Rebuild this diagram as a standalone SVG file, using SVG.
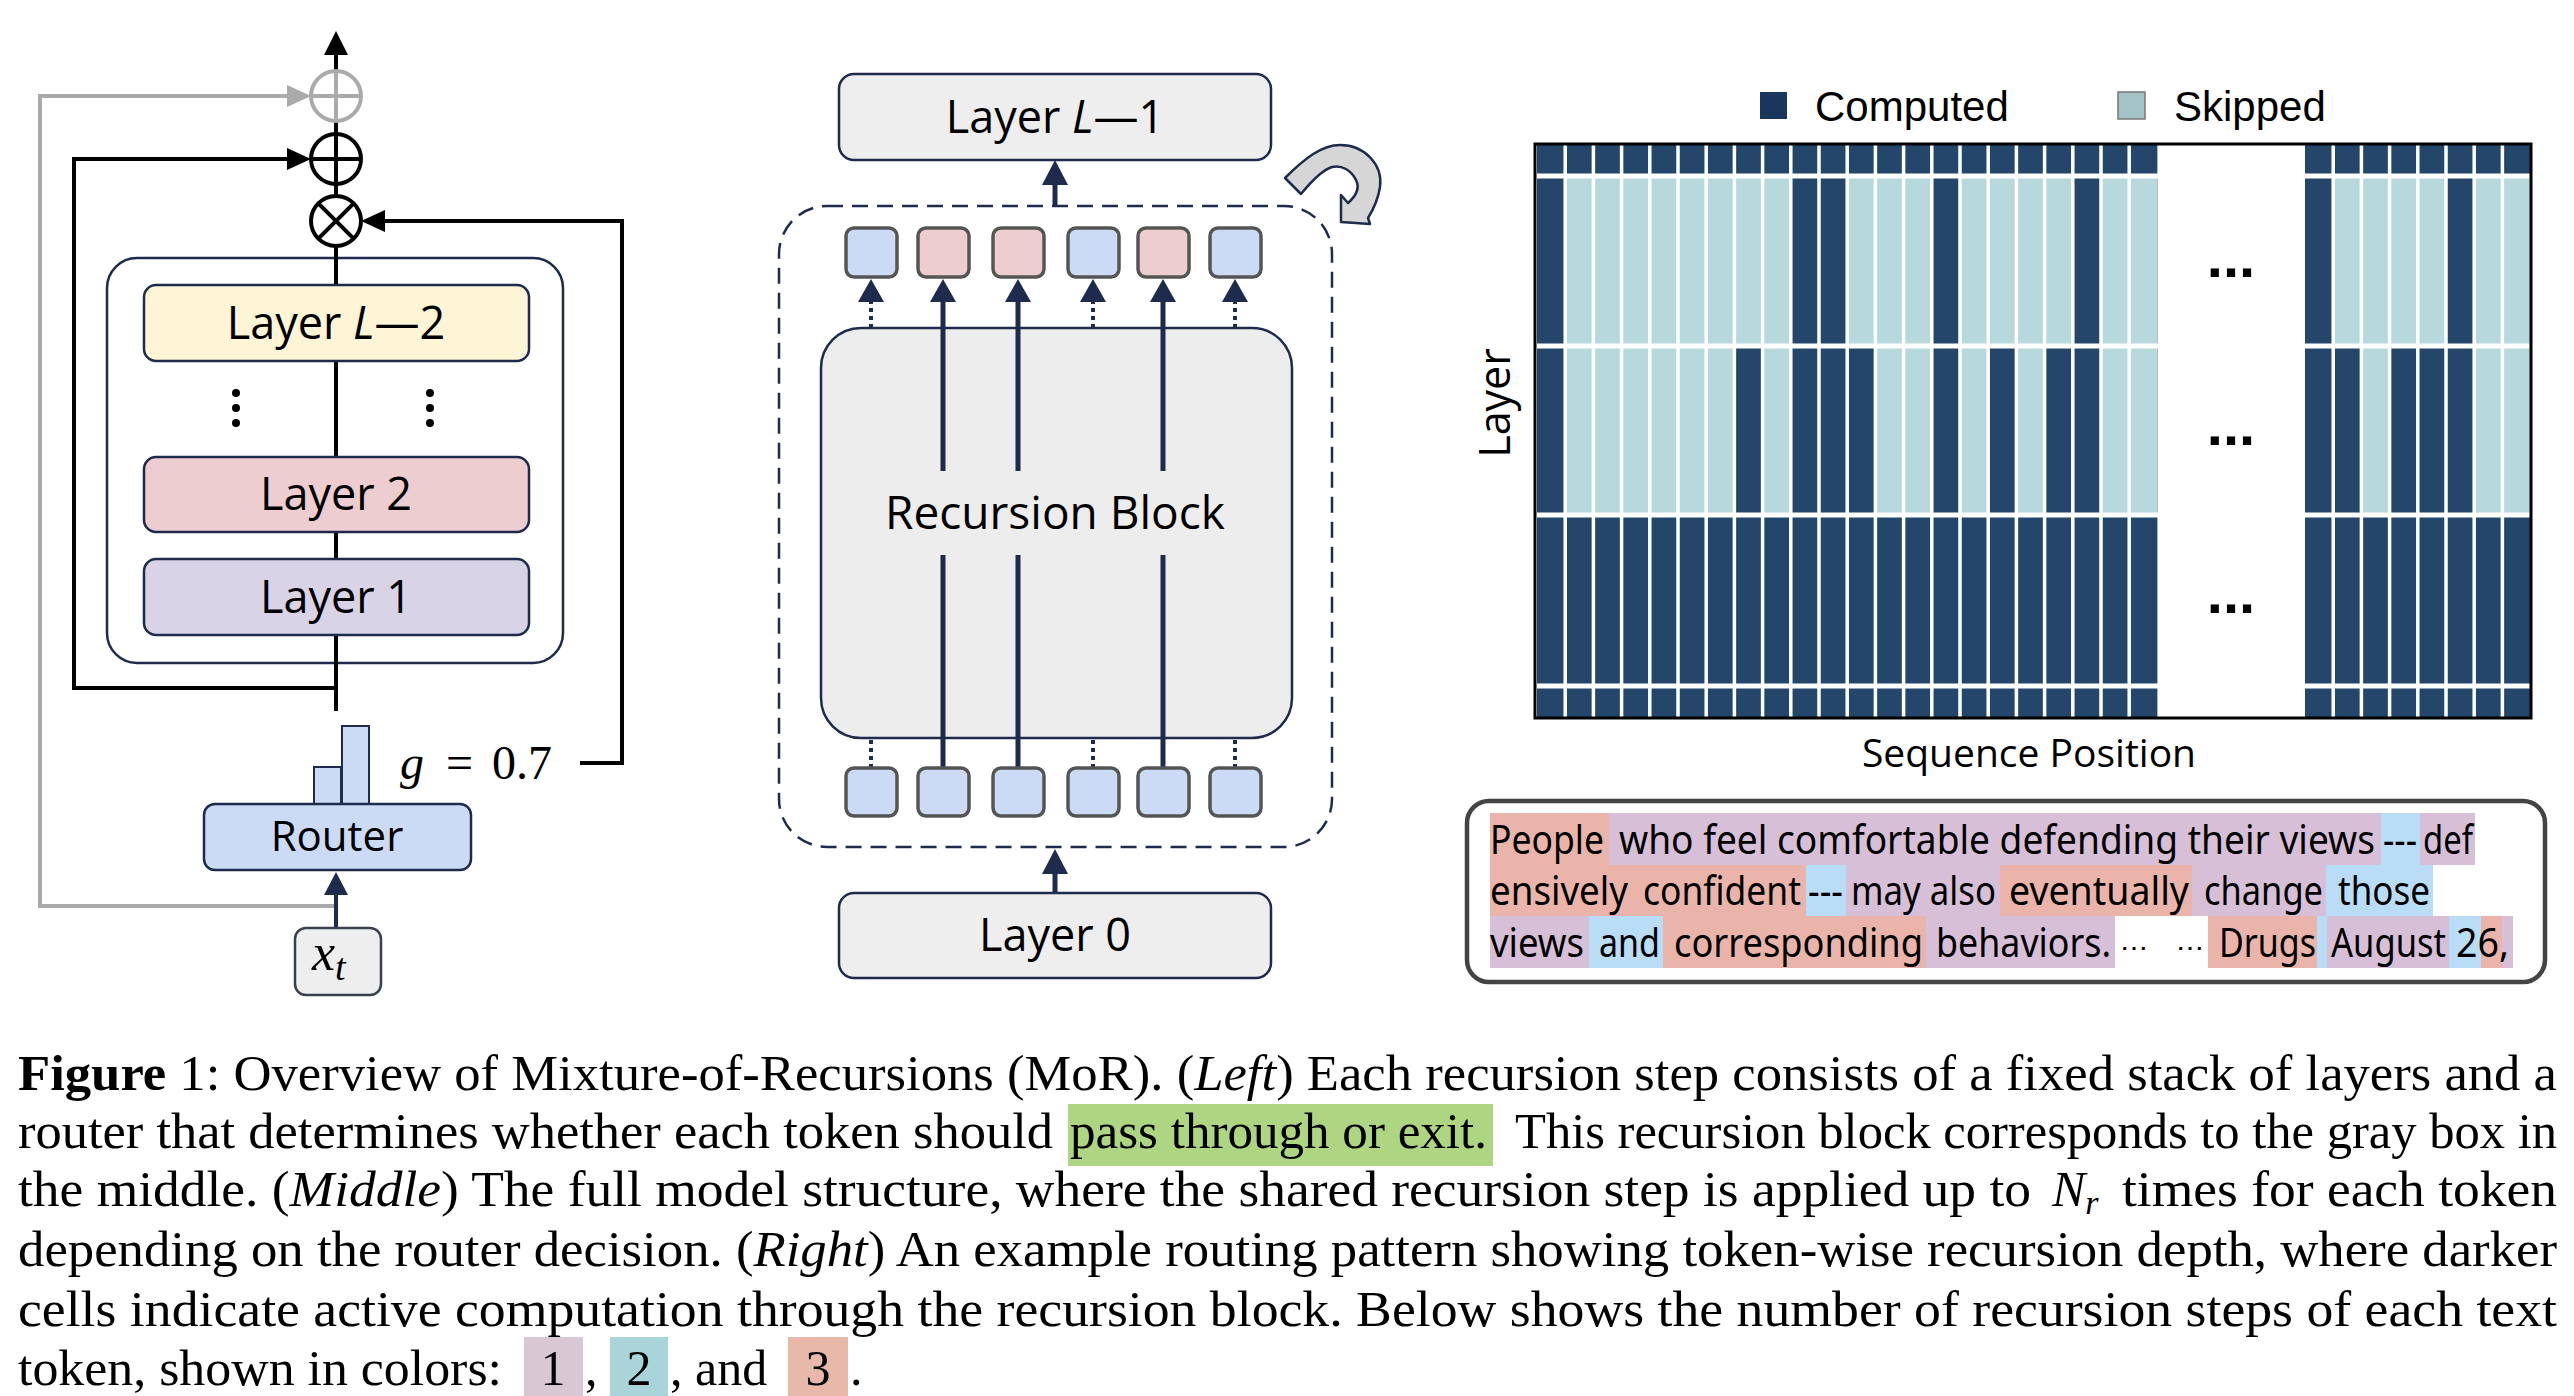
<svg xmlns="http://www.w3.org/2000/svg" width="2574" height="1396" viewBox="0 0 2574 1396">
<defs>
<style>
.lbl{font-family:"Open Sans","Noto Sans","DejaVu Sans",sans-serif;fill:#000;}
.box{stroke:#1E2B4D;stroke-width:2.5;}
.blk{stroke:#000;stroke-width:4;fill:none;}
.tok{stroke:#555;stroke-width:3.5;}
.tb{fill:#CCDBF5;}
.tp{fill:#EDCDD0;}
.cap{font-family:"Liberation Serif","Times New Roman",serif;font-size:50px;fill:#000;}
.tt{font-family:"Noto Sans","Open Sans",sans-serif;font-size:40px;fill:#000;}
.hp{fill:#EAB4AA;}
.hu{fill:#D8BFD8;}
.hb{fill:#B9DCF7;}
.math{font-family:"Liberation Serif","DejaVu Serif",serif;}
</style>
</defs>
<rect x="0" y="0" width="2574" height="1396" fill="#fff"/>

<!-- LEFT DIAGRAM -->
<g id="left-connectors">
<line x1="336" y1="711" x2="336" y2="52" stroke="#000" stroke-width="4"/>
<polygon points="336,31 324,55 348,55" fill="#000"/>
<polyline points="336,906 40,906 40,96 290,96" stroke="#AAAAAA" stroke-width="4" fill="none"/>
<polygon points="311,96 287,85 287,107" fill="#AAAAAA"/>
<polyline class="blk" points="336,688 74,688 74,159 290,159"/>
<polygon points="311,159 287,148 287,170" fill="#000"/>
<polyline class="blk" points="580,763 622,763 622,221 385,221"/>
<polygon points="361,221 385,210 385,232" fill="#000"/>
<line x1="336" y1="928" x2="336" y2="893" stroke="#1E2B4D" stroke-width="4"/>
<polygon points="336,872 324,895 348,895" fill="#1E2B4D"/>
</g>
<g id="gray-add">
<circle cx="336" cy="96" r="25" fill="#fff" stroke="#AAAAAA" stroke-width="4"/>
<line x1="311" y1="96" x2="361" y2="96" stroke="#AAAAAA" stroke-width="4"/>
<line x1="336" y1="71" x2="336" y2="121" stroke="#AAAAAA" stroke-width="4"/>
</g>
<g id="add">
<circle cx="336" cy="159" r="25" fill="#fff" stroke="#000" stroke-width="4"/>
<line x1="311" y1="159" x2="361" y2="159" stroke="#000" stroke-width="4"/>
<line x1="336" y1="134" x2="336" y2="184" stroke="#000" stroke-width="4"/>
</g>
<g id="mul">
<circle cx="336" cy="221" r="25" fill="#fff" stroke="#000" stroke-width="4"/>
<line x1="318.3" y1="203.3" x2="353.7" y2="238.7" stroke="#000" stroke-width="4"/>
<line x1="353.7" y1="203.3" x2="318.3" y2="238.7" stroke="#000" stroke-width="4"/>
</g>
<g id="stack">
<rect x="107" y="258" width="456" height="405" rx="30" fill="none" class="box"/>
<line x1="336" y1="246" x2="336" y2="711" stroke="#000" stroke-width="4"/>
</g>
<g id="layer-L2">
<rect x="144" y="285" width="385" height="76" rx="12" fill="#FEF4D6" class="box"/>
<text class="lbl" x="336" y="339" font-size="45" text-anchor="middle">Layer <tspan font-style="italic">L</tspan>—2</text>
</g>
<g id="dots">
<circle cx="236" cy="393" r="4" fill="#000"/><circle cx="236" cy="408" r="4" fill="#000"/><circle cx="236" cy="423" r="4" fill="#000"/>
<circle cx="430" cy="393" r="4" fill="#000"/><circle cx="430" cy="408" r="4" fill="#000"/><circle cx="430" cy="423" r="4" fill="#000"/>
</g>
<g id="layer-2">
<rect x="144" y="457" width="385" height="75" rx="12" fill="#EECDD0" class="box"/>
<text class="lbl" x="336" y="510" font-size="45" text-anchor="middle">Layer 2</text>
</g>
<g id="layer-1">
<rect x="144" y="559" width="385" height="76" rx="12" fill="#D9D3E8" class="box"/>
<text class="lbl" x="336" y="613" font-size="45" text-anchor="middle">Layer 1</text>
</g>
<g id="bars">
<rect x="314" y="767" width="27" height="37" fill="#CCDBF5" stroke="#1E2B4D" stroke-width="2"/>
<rect x="342" y="726" width="27" height="78" fill="#CCDBF5" stroke="#1E2B4D" stroke-width="2"/>
</g>
<g id="gate">
<text class="math" y="779" font-size="48"><tspan x="400" font-style="italic">g</tspan><tspan x="446">=</tspan><tspan x="492">0.7</tspan></text>
</g>
<g id="router">
<rect x="204" y="804" width="267" height="66" rx="11" fill="#CCDBF5" class="box"/>
<text class="lbl" x="337" y="851" font-size="42" text-anchor="middle">Router</text>
</g>
<g id="xt">
<rect x="295" y="928" width="86" height="67" rx="11" fill="#EEEEEE" stroke="#3A4050" stroke-width="2.5"/>
<text class="math" x="312" y="970" font-size="52" font-style="italic">x<tspan font-size="38" dy="10">t</tspan></text>
</g>

<!-- MIDDLE DIAGRAM -->
<g id="mid-connectors">
<line x1="1055" y1="206" x2="1055" y2="182" stroke="#1E2B4D" stroke-width="5"/>
<polygon points="1055,160 1042,185 1068,185" fill="#1E2B4D"/>
<line x1="1055" y1="893" x2="1055" y2="870" stroke="#1E2B4D" stroke-width="5"/>
<polygon points="1055,849 1042,874 1068,874" fill="#1E2B4D"/>
</g>
<g id="layer-L1">
<rect x="839" y="74" width="432" height="86" rx="15" fill="#EEEEEE" class="box"/>
<text class="lbl" x="1055" y="133" font-size="45" text-anchor="middle">Layer <tspan font-style="italic">L</tspan>—1</text>
</g>
<g id="recur-icon">
<path d="M 1285 178 C 1305 158 1322 145 1340 145 C 1365 145 1383 165 1380 187 C 1378 200 1373 210 1368 218 L 1370 224 L 1341 222 L 1341 195 L 1348 203 C 1356 196 1360 188 1356 180 C 1351 170 1342 165 1332 167 C 1322 170 1310 183 1301 194 Z" fill="#D6D6D6" stroke="#1E2B4D" stroke-width="2.5" stroke-linejoin="round"/>
</g>
<g id="recur-step">
<rect x="779" y="206" width="553" height="641" rx="48" fill="none" stroke="#1E2B4D" stroke-width="2.5" stroke-dasharray="16 9"/>
</g>
<g id="recursion-block">
<rect x="821" y="328" width="471" height="410" rx="40" fill="#EDEDED" class="box"/>
<text class="lbl" x="1055" y="529" font-size="46" text-anchor="middle">Recursion Block</text>
</g>
<g id="token-arrows">
<g stroke="#1E2B4D" stroke-width="5">
<line x1="943" y1="768" x2="943" y2="555"/><line x1="943" y1="471" x2="943" y2="299"/>
<line x1="1018" y1="768" x2="1018" y2="555"/><line x1="1018" y1="471" x2="1018" y2="299"/>
<line x1="1163" y1="768" x2="1163" y2="555"/><line x1="1163" y1="471" x2="1163" y2="299"/>
</g>
<g stroke="#1E2B4D" stroke-width="4" stroke-dasharray="4 4">
<line x1="871" y1="328" x2="871" y2="300"/><line x1="871" y1="768" x2="871" y2="738"/>
<line x1="1093" y1="328" x2="1093" y2="300"/><line x1="1093" y1="768" x2="1093" y2="738"/>
<line x1="1235" y1="328" x2="1235" y2="300"/><line x1="1235" y1="768" x2="1235" y2="738"/>
</g>
<g fill="#1E2B4D">
<polygon points="871,279 858,302 884,302"/>
<polygon points="943,279 930,302 956,302"/>
<polygon points="1018,279 1005,302 1031,302"/>
<polygon points="1093,279 1080,302 1106,302"/>
<polygon points="1163,279 1150,302 1176,302"/>
<polygon points="1235,279 1222,302 1248,302"/>
</g>
</g>
<g id="tokens-out">
<rect class="tok tb" x="846" y="228" width="51" height="49" rx="8"/>
<rect class="tok tp" x="918" y="228" width="51" height="49" rx="8"/>
<rect class="tok tp" x="993" y="228" width="51" height="49" rx="8"/>
<rect class="tok tb" x="1068" y="228" width="51" height="49" rx="8"/>
<rect class="tok tp" x="1138" y="228" width="51" height="49" rx="8"/>
<rect class="tok tb" x="1210" y="228" width="51" height="49" rx="8"/>
</g>
<g id="tokens-in">
<rect class="tok tb" x="846" y="768" width="51" height="48" rx="8"/>
<rect class="tok tb" x="918" y="768" width="51" height="48" rx="8"/>
<rect class="tok tb" x="993" y="768" width="51" height="48" rx="8"/>
<rect class="tok tb" x="1068" y="768" width="51" height="48" rx="8"/>
<rect class="tok tb" x="1138" y="768" width="51" height="48" rx="8"/>
<rect class="tok tb" x="1210" y="768" width="51" height="48" rx="8"/>
</g>
<g id="layer-0">
<rect x="839" y="893" width="432" height="85" rx="15" fill="#EEEEEE" class="box"/>
<text class="lbl" x="1055" y="951" font-size="45" text-anchor="middle">Layer 0</text>
</g>

<!-- RIGHT: ROUTING GRID -->
<g id="legend">
<rect x="1760" y="92" width="27" height="27" fill="#1B365D"/>
<text x="1815" y="121" font-family="Liberation Sans, Arial, sans-serif" font-size="42">Computed</text>
<rect x="2118" y="92" width="27" height="27" fill="#A3C3C7" stroke="#777" stroke-width="1.5"/>
<text x="2174" y="121" font-family="Liberation Sans, Arial, sans-serif" font-size="42">Skipped</text>
</g>
<g id="grid">
<rect x="1537" y="145" width="620.4" height="572" fill="#25466B"/>
<rect x="2305" y="145" width="225.6" height="572" fill="#25466B"/>
<g fill="#B7D8DC">
<rect x="1565.2" y="176" width="225.6" height="170"/>
<rect x="1847.2" y="176" width="84.6" height="170"/>
<rect x="1960" y="176" width="112.8" height="170"/>
<rect x="2101" y="176" width="56.4" height="170"/>
<rect x="2333.2" y="176" width="112.8" height="170"/>
<rect x="2474" y="176" width="56.6" height="170"/>
<rect x="1565.2" y="346" width="169.2" height="169"/>
<rect x="1762.6" y="346" width="28.2" height="169"/>
<rect x="1875.4" y="346" width="56.4" height="169"/>
<rect x="1960" y="346" width="28.2" height="169"/>
<rect x="2016.4" y="346" width="28.2" height="169"/>
<rect x="2101" y="346" width="56.4" height="169"/>
<rect x="2361.4" y="346" width="28.2" height="169"/>
<rect x="2474" y="346" width="56.6" height="169"/>
</g>
<path stroke="#fff" stroke-width="3.5" fill="none" d="M1565.2 145V717M1593.4 145V717M1621.6 145V717M1649.8 145V717M1678 145V717M1706.2 145V717M1734.4 145V717M1762.6 145V717M1790.8 145V717M1819 145V717M1847.2 145V717M1875.4 145V717M1903.6 145V717M1931.8 145V717M1960 145V717M1988.2 145V717M2016.4 145V717M2044.6 145V717M2072.8 145V717M2101 145V717M2129.2 145V717M2333.2 145V717M2361.4 145V717M2389.6 145V717M2417.8 145V717M2446 145V717M2474.2 145V717M2502.4 145V717"/>
<path stroke="#fff" stroke-width="5" fill="none" d="M1537 176H2158M1537 346H2158M1537 515H2158M1537 686H2158M2305 176H2531M2305 346H2531M2305 515H2531M2305 686H2531"/>
<rect x="1535" y="144" width="996" height="574" fill="none" stroke="#000" stroke-width="3"/>
<g font-family="Liberation Sans, Arial, sans-serif" font-size="58" font-weight="bold" text-anchor="middle">
<text x="2231" y="277">...</text>
<text x="2231" y="445">...</text>
<text x="2231" y="613">...</text>
</g>
</g>
<g id="axis-labels">
<text class="lbl" font-size="43" text-anchor="middle" transform="translate(1510,403) rotate(-90)">Layer</text>
<text class="lbl" x="2029" y="767" font-size="39" text-anchor="middle">Sequence Position</text>
</g>

<!-- TOKEN TEXT BOX -->
<g id="token-text">
<rect x="1467" y="801" width="1078" height="181" rx="22" fill="#fff" stroke="#444" stroke-width="4.5"/>
<rect class="hp" x="1490" y="813" width="119" height="52"/>
<rect class="hu" x="1609" y="813" width="772" height="52"/>
<rect class="hb" x="2381" y="813" width="39" height="52"/>
<rect class="hu" x="2420" y="813" width="55" height="52"/>
<rect class="hp" x="1490" y="865" width="316" height="51"/>
<rect class="hb" x="1806" y="865" width="40" height="51"/>
<rect class="hu" x="1846" y="865" width="154" height="51"/>
<rect class="hp" x="2000" y="865" width="192" height="51"/>
<rect class="hu" x="2192" y="865" width="134" height="51"/>
<rect class="hb" x="2326" y="865" width="107" height="51"/>
<rect class="hu" x="1490" y="916" width="99" height="52"/>
<rect class="hb" x="1589" y="916" width="74" height="52"/>
<rect class="hp" x="1663" y="916" width="263" height="52"/>
<rect class="hu" x="1926" y="916" width="189" height="52"/>
<rect class="hp" x="2208" y="916" width="109" height="52"/>
<rect class="hb" x="2317" y="916" width="10" height="52"/>
<rect class="hu" x="2327" y="916" width="122" height="52"/>
<rect class="hb" x="2449" y="916" width="32" height="52"/>
<rect class="hp" x="2481" y="916" width="21" height="52"/>
<rect class="hu" x="2502" y="916" width="11" height="52"/>
<g class="tt">
<text x="1490" y="854" textLength="114" lengthAdjust="spacingAndGlyphs">People</text>
<text x="1619" y="854" textLength="756" lengthAdjust="spacingAndGlyphs">who feel comfortable defending their views</text>
<text x="2383" y="854" textLength="34" lengthAdjust="spacingAndGlyphs">---</text>
<text x="2423" y="854" textLength="50" lengthAdjust="spacingAndGlyphs">def</text>
<text x="1490" y="905" textLength="138" lengthAdjust="spacingAndGlyphs">ensively</text>
<text x="1643" y="905" textLength="158" lengthAdjust="spacingAndGlyphs">confident</text>
<text x="1808" y="905" textLength="35" lengthAdjust="spacingAndGlyphs">---</text>
<text x="1851" y="905" textLength="145" lengthAdjust="spacingAndGlyphs">may also</text>
<text x="2009" y="905" textLength="180" lengthAdjust="spacingAndGlyphs">eventually</text>
<text x="2204" y="905" textLength="119" lengthAdjust="spacingAndGlyphs">change</text>
<text x="2338" y="905" textLength="92" lengthAdjust="spacingAndGlyphs">those</text>
<text x="1490" y="957" textLength="94" lengthAdjust="spacingAndGlyphs">views</text>
<text x="1599" y="957" textLength="61" lengthAdjust="spacingAndGlyphs">and</text>
<text x="1674" y="957" textLength="249" lengthAdjust="spacingAndGlyphs">corresponding</text>
<text x="1936" y="957" textLength="175" lengthAdjust="spacingAndGlyphs">behaviors.</text>
<text x="2120" y="957" font-size="28">⋯</text>
<text x="2176" y="957" font-size="28">⋯</text>
<text x="2219" y="957" textLength="97" lengthAdjust="spacingAndGlyphs">Drugs</text>
<text x="2331" y="957" textLength="115" lengthAdjust="spacingAndGlyphs">August</text>
<text x="2456" y="957" textLength="53" lengthAdjust="spacingAndGlyphs">26,</text>
</g>
</g>

<!-- CAPTION -->
<g id="caption">
<rect x="1068" y="1104" width="425" height="62" fill="#AED581"/>
<rect x="524" y="1337" width="59" height="59" fill="#D8C8D4"/>
<rect x="610" y="1337" width="58" height="59" fill="#A8D4DA"/>
<rect x="788" y="1337" width="60" height="59" fill="#E8B8AB"/>
<text class="cap" x="18" y="1090" textLength="2539" lengthAdjust="spacingAndGlyphs"><tspan font-weight="bold">Figure</tspan> 1: Overview of Mixture-of-Recursions (MoR). (<tspan font-style="italic">Left</tspan>) Each recursion step consists of a fixed stack of layers and a</text>
<text class="cap" x="18" y="1148" textLength="1035" lengthAdjust="spacingAndGlyphs">router that determines whether each token should</text>
<text class="cap" x="1070" y="1148" textLength="417" lengthAdjust="spacingAndGlyphs">pass through or exit.</text>
<text class="cap" x="1515" y="1148" textLength="1042" lengthAdjust="spacingAndGlyphs">This recursion block corresponds to the gray box in</text>
<text class="cap" x="18" y="1206" textLength="2013" lengthAdjust="spacingAndGlyphs">the middle. (<tspan font-style="italic">Middle</tspan>) The full model structure, where the shared recursion step is applied up to</text>
<text class="cap" x="2052" y="1206" font-style="italic">N<tspan font-size="34" dy="8">r</tspan></text>
<text class="cap" x="2122" y="1206" textLength="435" lengthAdjust="spacingAndGlyphs">times for each token</text>
<text class="cap" x="18" y="1266" textLength="2539" lengthAdjust="spacingAndGlyphs">depending on the router decision. (<tspan font-style="italic">Right</tspan>) An example routing pattern showing token-wise recursion depth, where darker</text>
<text class="cap" x="18" y="1326" textLength="2539" lengthAdjust="spacingAndGlyphs">cells indicate active computation through the recursion block. Below shows the number of recursion steps of each text</text>
<text class="cap" x="18" y="1385" textLength="484" lengthAdjust="spacingAndGlyphs">token, shown in colors:</text>
<text class="cap" x="553" y="1385" text-anchor="middle">1</text>
<text class="cap" x="585" y="1385">,</text>
<text class="cap" x="639" y="1385" text-anchor="middle">2</text>
<text class="cap" x="670" y="1385">, and</text>
<text class="cap" x="818" y="1385" text-anchor="middle">3</text>
<text class="cap" x="850" y="1385">.</text>
</g>
</svg>
